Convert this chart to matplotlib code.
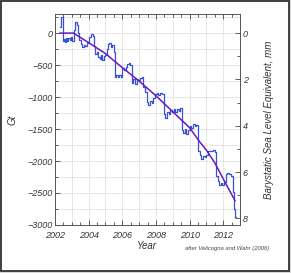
#!/usr/bin/env python3
# -*- coding: utf-8 -*-
"""Ice mass change (Gt) with barystatic sea level equivalent on the right axis."""

import matplotlib
matplotlib.use('Agg')
import matplotlib.pyplot as plt
from matplotlib.patches import Rectangle
from matplotlib.ticker import MultipleLocator

# monthly mass anomaly, step changes (decimal year, Gt)
years = [2002.30, 2002.33, 2002.45, 2002.52, 2002.58, 2002.65, 2002.72, 2002.80,
         2002.88, 2002.95, 2003.02, 2003.10, 2003.17, 2003.30, 2003.38, 2003.45,
         2003.55, 2003.63, 2003.72, 2003.80, 2003.88, 2003.97, 2004.05, 2004.13,
         2004.25, 2004.32, 2004.40, 2004.48, 2004.57, 2004.65, 2004.73, 2004.82,
         2004.90, 2004.98, 2005.07, 2005.15, 2005.23, 2005.32, 2005.40, 2005.48,
         2005.57, 2005.65, 2005.73, 2005.82, 2005.90, 2006.00, 2006.10, 2006.20,
         2006.30, 2006.40, 2006.48, 2006.55, 2006.65, 2006.75, 2006.85, 2006.95,
         2007.05, 2007.15, 2007.25, 2007.35, 2007.45, 2007.55, 2007.65, 2007.75,
         2007.85, 2007.95, 2008.05, 2008.15, 2008.25, 2008.35, 2008.45, 2008.55,
         2008.65, 2008.75, 2008.85, 2008.95, 2009.05, 2009.15, 2009.25, 2009.35,
         2009.45, 2009.55, 2009.62, 2009.70, 2009.80, 2009.90, 2010.00, 2010.10,
         2010.20, 2010.30, 2010.40, 2010.50, 2010.60, 2010.70, 2010.80, 2010.90,
         2011.00, 2011.10, 2011.20, 2011.30, 2011.40, 2011.50, 2011.58, 2011.66,
         2011.75, 2011.85, 2011.95, 2012.05, 2012.15, 2012.25, 2012.35, 2012.45,
         2012.55, 2012.62, 2012.70, 2012.75]
mass_gt = [100, 250, -130, -90, -140, -80, -130, -70,
           -110, -60, -120, 50, 170, 120, 0, -110,
           -170, -210, -180, -200, -160, -140, -60, -20,
           -40, -200, -330, -290, -370, -400, -350, -420,
           -360, -340, -250, -170, -160, -210, -190, -300,
           -680, -660, -690, -650, -680, -540, -580, -530,
           -490, -470, -500, -780, -720, -800, -720, -740,
           -700, -690, -850, -920, -1080, -1120, -1060, -1100,
           -1020, -960, -940, -970, -930, -960, -1260, -1320,
           -1240, -1270, -1210, -1240, -1190, -1230, -1180, -1220,
           -1170, -1520, -1560, -1500, -1570, -1520, -1460, -1480,
           -1420, -1450, -1430, -1850, -1900, -1970, -1920, -1930,
           -1910, -1850, -1840, -1850, -1830, -1860, -2230, -2310,
           -2370, -2340, -2380, -2330, -2210, -2180, -2200, -2230,
           -2480, -2750, -2880, -2880]

# smooth trend fit (decimal year, Gt)
fit_years = [2002.30, 2003.10, 2004.0, 2005.0, 2006.0, 2007.0, 2008.0, 2009.0,
             2010.0, 2010.6, 2011.0, 2011.5, 2012.0, 2012.70]
fit_gt = [0, 0, -150, -320, -540, -750, -980, -1230,
          -1480, -1700, -1830, -2030, -2280, -2620]

GT_PER_MM = 362.0
x_ticks = [2002, 2004, 2006, 2008, 2010, 2012]
gt_ticks = [0, -500, -1000, -1500, -2000, -2500, -3000]
mm_ticks = [0, 2, 4, 6, 8]

tick_font = dict(family='Liberation Sans', style='italic', size=6.5, color='#333333')


def main():
    fig = plt.figure(figsize=(2.91, 2.73), dpi=100, facecolor='#d8d8d8')
    # white panel with a dark frame
    fig.patches.append(Rectangle((0.002, 0.008), 0.990, 0.990, transform=fig.transFigure,
                                 facecolor='white', edgecolor='#222222', linewidth=1.2,
                                 zorder=-10))

    ax = fig.add_axes([0.189, 0.176, 0.636, 0.773])
    ax.set_facecolor('none')
    ax.step(years, mass_gt, where='post', color='#3552d8', linewidth=0.9, zorder=3)
    ax.plot(fit_years, fit_gt, color='#6a17c4', linewidth=1.1, zorder=4)

    ax.set_xlim(2002, 2013)
    ax.set_ylim(-3000, 300)
    ax.set_xticks(x_ticks)
    ax.set_yticks(gt_ticks)
    ax.xaxis.set_minor_locator(MultipleLocator(0.5))
    ax.yaxis.set_minor_locator(MultipleLocator(250))
    ax.set_xticklabels([str(v) for v in x_ticks], fontdict=tick_font)
    ax.set_yticklabels([str(v).replace('-', '\u2212') for v in gt_ticks], fontdict=tick_font)

    # dotted grid: yearly verticals, 250 Gt horizontals
    for yr in range(2003, 2013):
        ax.axvline(yr, color='#c8c8c8', linewidth=0.6, linestyle=(0, (1, 1)), zorder=1)
    for g in range(-2750, 300, 250):
        ax.axhline(g, color='#c8c8c8', linewidth=0.6, linestyle=(0, (1, 1)), zorder=1)

    ax.tick_params(which='both', direction='in', top=True, right=False, color='#444444',
                   width=0.6)
    ax.tick_params(axis='y', pad=2)
    ax.tick_params(axis='x', pad=4)
    ax.tick_params(which='major', length=3.5)
    ax.tick_params(which='minor', length=2)
    for s in ax.spines.values():
        s.set_color('#555555')
        s.set_linewidth(0.7)

    ax2 = ax.twinx()
    ax2.set_ylim(3000 / GT_PER_MM, -300 / GT_PER_MM)
    ax2.set_yticks(mm_ticks)
    ax2.yaxis.set_minor_locator(MultipleLocator(1))
    ax2.set_yticklabels([str(v) for v in mm_ticks], fontdict=tick_font)
    ax2.tick_params(which='both', direction='in', color='#444444', width=0.6, pad=2)
    ax2.tick_params(which='major', length=3.5)
    ax2.tick_params(which='minor', length=2)
    for s in ax2.spines.values():
        s.set_visible(False)

    label_font = dict(family='Liberation Sans', style='italic', size=7, color='#333333')
    fig.text(0.043, 0.56, 'Gt', rotation=90, ha='center', va='center', **label_font)
    fig.text(0.505, 0.100, 'Year', ha='center', va='center', **label_font)
    fig.text(0.925, 0.56, 'Barystatic Sea Level Equivalent, mm', rotation=90,
             ha='center', va='center', **label_font)
    fig.text(0.78, 0.088, 'after Velicogna and Wahr (2006)', ha='center', va='center',
             family='Liberation Sans', style='italic', size=4.2, color='#444444')

    fig.savefig('out.png', dpi=100, facecolor=fig.get_facecolor())
    plt.close(fig)


if __name__ == '__main__':
    main()
